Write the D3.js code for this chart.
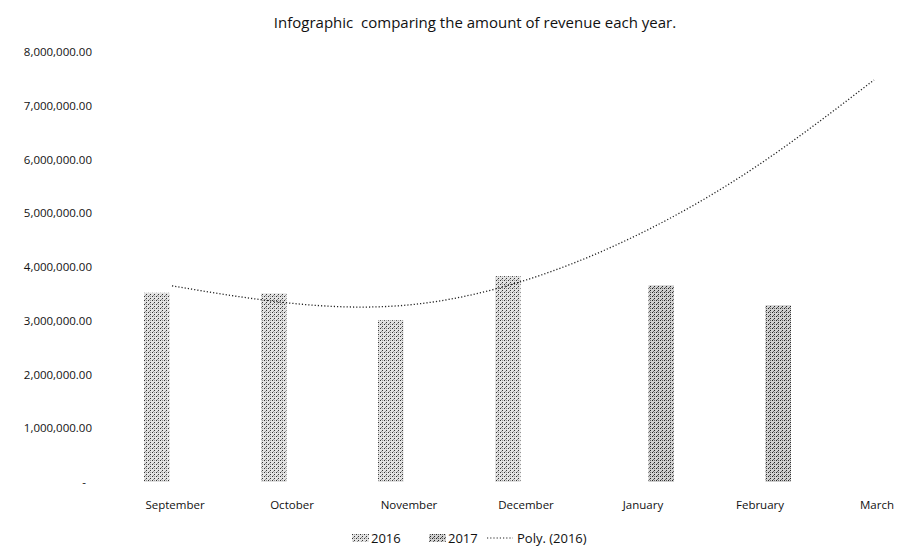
<!DOCTYPE html>
<html>
<head>
<meta charset="utf-8">
<script src="https://cdn.jsdelivr.net/npm/d3@7"></script>
<style>
body { margin: 0; background: #fff; }
svg { display: block; font-family: "Open Sans", sans-serif; }
</style>
</head>
<body>
<script>
// data
var months = ["September", "October", "November", "December", "January", "February", "March"];
var years = ["2016", "2017"];
var rev2016 = [3520000, 3510000, 3010000, 3830000, null, null, null];
var rev2017 = [null, null, null, null, 3660000, 3290000, null];
var poly2016 = [3650000, 3330000, 3290000, 3740000, 4620000, 5880000, 7480000];
var yTicks = [0, 1000000, 2000000, 3000000, 4000000, 5000000, 6000000, 7000000, 8000000];

var W = 906, H = 549;

var svg = d3.select("body").append("svg")
    .attr("width", W)
    .attr("height", H);

// stipple patterns to look like the scanned fills
var defs = svg.append("defs");
function stipple(id, bg, dot, extra) {
    var p = defs.append("pattern")
        .attr("id", id)
        .attr("width", 4).attr("height", 4)
        .attr("patternUnits", "userSpaceOnUse");
    p.append("rect").attr("width", 4).attr("height", 4).attr("fill", bg);
    p.append("rect").attr("x", 0).attr("y", 0).attr("width", 1).attr("height", 1).attr("fill", dot);
    p.append("rect").attr("x", 2).attr("y", 2).attr("width", 1).attr("height", 1).attr("fill", dot);
    p.append("rect").attr("x", 2).attr("y", 0).attr("width", 1).attr("height", 1).attr("fill", extra);
    p.append("rect").attr("x", 1).attr("y", 3).attr("width", 1).attr("height", 1).attr("fill", extra);
}
stipple("fill2016", "#e2e2e2", "#333", "#999");
stipple("fill2017", "#cfcfcf", "#222", "#666");

var x = d3.scaleBand().domain(months).range([116.5, 935.5]);
var xs = d3.scaleBand().domain(years).range([-31, 31]).paddingInner(0.3);
var y = d3.scaleLinear().domain([0, 8000000]).range([482, 52]);

// title
svg.append("text")
    .attr("x", 475)
    .attr("y", 28)
    .attr("text-anchor", "middle")
    .attr("font-size", 15)
    .attr("fill", "#111")
    .attr("xml:space", "preserve")
    .text("Infographic  comparing the amount of revenue each year.");

// y axis
var fmt = d3.format(",.2f");
var yaxis = svg.append("g")
    .attr("transform", "translate(92,0)")
    .call(d3.axisLeft(y).tickValues(yTicks).tickSize(0).tickPadding(0)
        .tickFormat(function(d) { return d === 0 ? "-" : fmt(d); }));
yaxis.select(".domain").remove();
yaxis.selectAll("text")
    .attr("font-size", 11.5)
    .attr("font-family", "'Open Sans', sans-serif")
    .attr("fill", "#111");
yaxis.selectAll(".tick").filter(function(d) { return d === 0; })
    .select("text").attr("x", -6);

// x axis
var xaxis = svg.append("g")
    .attr("transform", "translate(0,482)")
    .call(d3.axisBottom(x).tickSize(0).tickPadding(19));
xaxis.select(".domain").remove();
xaxis.selectAll("text")
    .attr("font-size", 11.5)
    .attr("font-family", "'Open Sans', sans-serif")
    .attr("fill", "#111");

// bars
var series = [{key: "2016", vals: rev2016}, {key: "2017", vals: rev2017}];
series.forEach(function(s) {
    var pts = months.map(function(m, i) { return {m: m, v: s.vals[i]}; })
        .filter(function(d) { return d.v != null; });
    svg.append("g").selectAll("rect")
        .data(pts)
        .enter().append("rect")
        .attr("x", function(d) { return x(d.m) + x.bandwidth() / 2 + xs(s.key); })
        .attr("y", function(d) { return y(d.v); })
        .attr("width", xs.bandwidth())
        .attr("height", function(d) { return y(0) - y(d.v); })
        .attr("fill", "url(#fill" + s.key + ")");
});

// polynomial trendline of 2016
var line = d3.line()
    .x(function(d, i) { return x(months[i]) + x.bandwidth() / 2 - 3; })
    .y(function(d) { return y(d); })
    .curve(d3.curveNatural);
svg.append("path")
    .datum(poly2016)
    .attr("fill", "none")
    .attr("stroke", "#222")
    .attr("stroke-width", 1.3)
    .attr("stroke-dasharray", "1.2,2")
    .attr("d", line);

// legend
var legend = svg.append("g").attr("transform", "translate(0,538)");
var items = [
    {label: "2016", type: "2016", x: 352},
    {label: "2017", type: "2017", x: 429},
    {label: "Poly. (2016)", type: "line", x: 487}
];
items.forEach(function(it) {
    if (it.type === "line") {
        legend.append("line")
            .attr("x1", it.x).attr("x2", it.x + 26)
            .attr("y1", 0).attr("y2", 0)
            .attr("stroke", "#222")
            .attr("stroke-width", 1.2)
            .attr("stroke-dasharray", "1.2,2");
        legend.append("text")
            .attr("x", it.x + 30).attr("y", 0).attr("dy", "0.35em")
            .attr("font-size", 13).attr("fill", "#111")
            .text(it.label);
    } else {
        legend.append("rect")
            .attr("x", it.x).attr("y", -4)
            .attr("width", 17).attr("height", 8)
            .attr("fill", "url(#fill" + it.type + ")");
        legend.append("text")
            .attr("x", it.x + 19).attr("y", 0).attr("dy", "0.35em")
            .attr("font-size", 13).attr("fill", "#111")
            .text(it.label);
    }
});
</script>
</body>
</html>
